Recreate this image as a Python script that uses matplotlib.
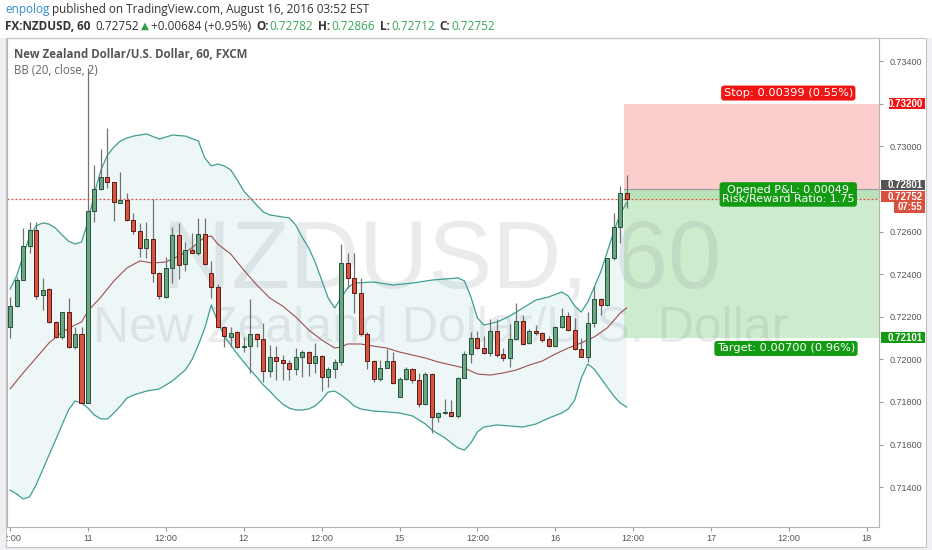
import numpy as np
import matplotlib
matplotlib.use("Agg")
import matplotlib.pyplot as plt
from matplotlib.patches import Rectangle
from matplotlib.transforms import blended_transform_factory

# hourly bars, index 0 = Aug 11 00:00
bar_index = list(range(-12, 84))
opens = [0.72150, 0.72250, 0.72372, 0.72532, 0.72607, 0.72302, 0.72329, 0.72175, 0.72106, 0.72221,
         0.72059, 0.72117, 0.71796, 0.72696, 0.72798, 0.72854, 0.72831, 0.72735, 0.72748, 0.72654,
         0.72604, 0.72521, 0.72563, 0.72404, 0.72294, 0.72427, 0.72582, 0.72446, 0.72513, 0.72498,
         0.72588, 0.72404, 0.72341, 0.72153, 0.72106, 0.72130, 0.72059, 0.72062, 0.72117, 0.72097,
         0.71945, 0.72012, 0.71997, 0.71984, 0.71953, 0.72009, 0.72034, 0.71984, 0.72017, 0.71918,
         0.71953, 0.71989, 0.72454, 0.72380, 0.72310, 0.72119, 0.71992, 0.71906, 0.71961, 0.71993,
         0.71824, 0.71908, 0.71956, 0.71903, 0.71790, 0.71931, 0.71728, 0.71746, 0.71751, 0.71735,
         0.71914, 0.72023, 0.72101, 0.72052, 0.72028, 0.72133, 0.72023, 0.72008, 0.72094, 0.72181,
         0.72075, 0.72134, 0.72122, 0.72094, 0.72064, 0.72153, 0.72203, 0.72138, 0.72047, 0.72012,
         0.72172, 0.72282, 0.72255, 0.72474, 0.72623, 0.72782]
highs = [0.72291, 0.72388, 0.72615, 0.72646, 0.72646, 0.72380, 0.72333, 0.72181, 0.72223, 0.72286,
         0.72153, 0.72153, 0.73368, 0.72912, 0.72986, 0.73085, 0.72834, 0.72881, 0.72779, 0.72688,
         0.72639, 0.72646, 0.72751, 0.72411, 0.72479, 0.72623, 0.72639, 0.72552, 0.72592, 0.72662,
         0.72662, 0.72463, 0.72354, 0.72156, 0.72153, 0.72133, 0.72106, 0.72282, 0.72125, 0.72172,
         0.72067, 0.72062, 0.72020, 0.71997, 0.72052, 0.72044, 0.72040, 0.72075, 0.72020, 0.71965,
         0.72000, 0.72541, 0.72500, 0.72500, 0.72380, 0.72130, 0.71997, 0.71997, 0.72047, 0.72036,
         0.71918, 0.71965, 0.71961, 0.71937, 0.71942, 0.71934, 0.71754, 0.71812, 0.71809, 0.71918,
         0.72040, 0.72130, 0.72134, 0.72109, 0.72188, 0.72188, 0.72052, 0.72164, 0.72266, 0.72208,
         0.72141, 0.72161, 0.72130, 0.72109, 0.72156, 0.72239, 0.72223, 0.72193, 0.72099, 0.72223,
         0.72344, 0.72286, 0.72477, 0.72688, 0.72814, 0.72866]
lows = [0.72099, 0.72247, 0.72370, 0.72498, 0.72282, 0.72231, 0.72172, 0.72099, 0.72094, 0.72052,
        0.72047, 0.71793, 0.71793, 0.72646, 0.72795, 0.72803, 0.72651, 0.72732, 0.72651, 0.72588,
        0.72479, 0.72474, 0.72364, 0.72282, 0.72286, 0.72360, 0.72376, 0.72416, 0.72498, 0.72490,
        0.72443, 0.72286, 0.72150, 0.72059, 0.72059, 0.72053, 0.72036, 0.71937, 0.72059, 0.71895,
        0.71918, 0.71903, 0.71903, 0.71903, 0.71926, 0.71915, 0.71922, 0.71934, 0.71853, 0.71871,
        0.71911, 0.71973, 0.72333, 0.72216, 0.72109, 0.71953, 0.71895, 0.71900, 0.71958, 0.71884,
        0.71822, 0.71903, 0.71890, 0.71777, 0.71785, 0.71653, 0.71707, 0.71743, 0.71730, 0.71723,
        0.71911, 0.71981, 0.72047, 0.72025, 0.72015, 0.72012, 0.71992, 0.71965, 0.72091, 0.72067,
        0.72072, 0.72114, 0.72080, 0.72056, 0.72059, 0.72148, 0.72134, 0.72044, 0.72009, 0.71989,
        0.72150, 0.72208, 0.72250, 0.72466, 0.72547, 0.72712]
closes = [0.72250, 0.72372, 0.72532, 0.72607, 0.72297, 0.72325, 0.72175, 0.72106, 0.72221, 0.72059,
          0.72117, 0.71796, 0.72696, 0.72798, 0.72854, 0.72831, 0.72737, 0.72748, 0.72654, 0.72604,
          0.72521, 0.72563, 0.72404, 0.72297, 0.72427, 0.72582, 0.72443, 0.72513, 0.72498, 0.72588,
          0.72447, 0.72341, 0.72153, 0.72109, 0.72125, 0.72059, 0.72064, 0.72117, 0.72095, 0.71945,
          0.72012, 0.71993, 0.71981, 0.71953, 0.72009, 0.72034, 0.71984, 0.72017, 0.71918, 0.71953,
          0.71989, 0.72454, 0.72380, 0.72310, 0.72119, 0.71992, 0.71906, 0.71961, 0.71993, 0.71887,
          0.71908, 0.71956, 0.71903, 0.71790, 0.71931, 0.71728, 0.71746, 0.71751, 0.71735, 0.71914,
          0.72023, 0.72101, 0.72052, 0.72031, 0.72133, 0.72020, 0.72008, 0.72094, 0.72181, 0.72072,
          0.72134, 0.72122, 0.72091, 0.72064, 0.72153, 0.72203, 0.72138, 0.72047, 0.72012, 0.72172,
          0.72282, 0.72255, 0.72474, 0.72623, 0.72782, 0.72752]

# Bollinger bands (20, close, 2)
upper_idx = [-12, -11, -10, -9, -8, -7, -6, -5, -4, -3, -2, -1, 0, 1, 2, 3, 4, 5, 6, 7, 9, 11, 13, 15,
             17, 18, 19, 20, 21, 22, 23, 24, 25, 26, 27, 28, 30, 31, 32, 33, 34, 35, 36, 37, 38, 39,
             40, 41, 44, 47, 50, 53, 57, 58, 59, 60, 61, 63, 65, 67, 69, 71, 73, 74, 75, 76, 77, 78,
             79, 80, 81, 82, 83]
upper_val = [0.72330, 0.72391, 0.72485, 0.72579, 0.72626, 0.72640, 0.72635, 0.72616, 0.72584, 0.72555,
             0.72541, 0.72551, 0.72645, 0.72781, 0.72889, 0.72959, 0.72997, 0.73025, 0.73039, 0.73048,
             0.73058, 0.73034, 0.73053, 0.73048, 0.73025, 0.72945, 0.72908, 0.72917, 0.72908, 0.72889,
             0.72842, 0.72790, 0.72757, 0.72724, 0.72692, 0.72678, 0.72668, 0.72664, 0.72631, 0.72574,
             0.72523, 0.72457, 0.72372, 0.72288, 0.72241, 0.72288, 0.72335, 0.72358, 0.72363, 0.72349,
             0.72358, 0.72372, 0.72382, 0.72368, 0.72293, 0.72194, 0.72161, 0.72175, 0.72203, 0.72241,
             0.72278, 0.72293, 0.72316, 0.72297, 0.72250, 0.72222, 0.72269, 0.72339, 0.72410, 0.72504,
             0.72598, 0.72683, 0.72734]
mid_idx = [-12, -10, -8, -6, -4, -2, -1, 0, 2, 4, 6, 8, 10, 12, 14, 16, 18, 19, 20, 22, 24, 26, 28,
           30, 32, 34, 36, 38, 39, 40, 42, 44, 46, 48, 50, 52, 54, 56, 58, 60, 62, 64, 66, 68, 70,
           72, 74, 76, 78, 80, 82, 83]
mid_val = [0.71861, 0.71936, 0.72006, 0.72077, 0.72128, 0.72161, 0.72175, 0.72227, 0.72293, 0.72368,
           0.72429, 0.72462, 0.72452, 0.72457, 0.72485, 0.72523, 0.72574, 0.72579, 0.72541, 0.72494,
           0.72419, 0.72349, 0.72288, 0.72250, 0.72199, 0.72138, 0.72091, 0.72053, 0.72058, 0.72072,
           0.72072, 0.72062, 0.72053, 0.72034, 0.72020, 0.72006, 0.71987, 0.71973, 0.71959, 0.71931,
           0.71926, 0.71936, 0.71950, 0.71973, 0.71992, 0.72025, 0.72053, 0.72077, 0.72105, 0.72147,
           0.72217, 0.72241]
lower_idx = [-12, -11, -10, -9, -8, -7, -6, -5, -4, -3, -2, -1, 0, 1, 2, 3, 4, 5, 6, 7, 9, 11, 13, 15,
             16, 17, 18, 19, 20, 21, 22, 23, 24, 25, 26, 27, 28, 29, 30, 31, 32, 33, 34, 35, 36, 37,
             38, 39, 40, 41, 42, 44, 46, 48, 50, 52, 53, 54, 55, 56, 57, 58, 59, 60, 61, 63, 65, 67,
             69, 70, 71, 73, 74, 75, 76, 77, 78, 79, 80, 81, 82, 83]
lower_val = [0.71386, 0.71368, 0.71344, 0.71354, 0.71410, 0.71480, 0.71551, 0.71621, 0.71692, 0.71762,
             0.71804, 0.71795, 0.71771, 0.71738, 0.71720, 0.71720, 0.71748, 0.71781, 0.71818, 0.71832,
             0.71851, 0.71861, 0.71898, 0.71950, 0.71997, 0.72067, 0.72147, 0.72255, 0.72175, 0.72109,
             0.72067, 0.72025, 0.71987, 0.71950, 0.71917, 0.71880, 0.71851, 0.71818, 0.71790, 0.71771,
             0.71762, 0.71762, 0.71767, 0.71781, 0.71809, 0.71846, 0.71851, 0.71832, 0.71809, 0.71781,
             0.71767, 0.71757, 0.71753, 0.71748, 0.71734, 0.71696, 0.71668, 0.71649, 0.71631, 0.71607,
             0.71584, 0.71574, 0.71607, 0.71659, 0.71682, 0.71692, 0.71687, 0.71682, 0.71696, 0.71710,
             0.71724, 0.71748, 0.71767, 0.71809, 0.71911, 0.71978, 0.71954, 0.71912, 0.71870, 0.71828,
             0.71795, 0.71776]

time_ticks = [-12, 0, 12, 24, 36, 48, 60, 72, 84, 96, 108, 120]
time_labels = ["12:00", "11", "12:00", "12", "12:00", "15", "12:00", "16", "12:00", "17", "12:00", "18"]
price_ticks = [0.714, 0.716, 0.718, 0.720, 0.722, 0.724, 0.726, 0.728, 0.730, 0.732, 0.734]

# long position tool
entry_price = 0.72801
stop_price = 0.73200
target_price = 0.72101
last_price = 0.72752
tool_start = 82.6

W, H = 932, 550
XMIN, XMAX = -12.48, 121.88
YMIN, YMAX = 0.712127, 0.735085

UP_FILL, UP_EDGE = "#6ba583", "#225437"
DN_FILL, DN_EDGE = "#d75442", "#5b1a13"
GREEN_TXT = "#3aa757"
DARK = "#333333"

fig = plt.figure(figsize=(W / 100, H / 100), dpi=100)
fig.patch.set_facecolor("white")
ax = fig.add_axes([7 / W, 23 / H, 872 / W, 489 / H])
ax.set_xlim(XMIN, XMAX)
ax.set_ylim(YMIN, YMAX)
px = (YMAX - YMIN) / 489  # one pixel in price units

# bands
bx_u = np.array(upper_idx)
bx_l = np.array(lower_idx)
ax.fill(np.r_[bx_u, bx_l[::-1]], np.r_[upper_val, lower_val[::-1]], color="#eef7f7", lw=0, zorder=0.5)
ax.plot(upper_idx, upper_val, color="#3f9e93", lw=0.9, zorder=1.5)
ax.plot(lower_idx, lower_val, color="#3f9e93", lw=0.9, zorder=1.5)
ax.plot(mid_idx, mid_val, color="#9e4f50", lw=0.8, zorder=1.5)

# watermark
ax.text(0.499, 0.4888, "NZDUSD, 60", transform=ax.transAxes, ha="center", va="baseline",
        fontsize=69, family="Liberation Sans", color="#8a939c", alpha=0.18, zorder=1)
ax.text(0.497, 0.378, "New Zealand Dollar/U.S. Dollar", transform=ax.transAxes, ha="center",
        va="baseline", fontsize=36, family="Liberation Sans", color="#8a939c", alpha=0.18, zorder=1)

# position tool
ax.add_patch(Rectangle((tool_start, entry_price), XMAX - tool_start, stop_price - entry_price,
                       fc="#fccdcd", ec="none", zorder=0.8))
ax.add_patch(Rectangle((tool_start, target_price), XMAX - tool_start, entry_price - target_price,
                       fc="#cdeccd", ec="none", zorder=0.8))
ax.add_patch(Rectangle((tool_start, last_price), XMAX - tool_start, entry_price - last_price,
                       fc="#b9e2b9", ec="none", zorder=0.85))
ax.plot([tool_start, XMAX], [entry_price, entry_price], color="#9a9a9a", lw=0.8, zorder=0.9)

# candles
o = np.array(opens); h = np.array(highs); l = np.array(lows); c = np.array(closes)
up = c >= o
ax.vlines(bar_index, l, h, color="#737373", lw=0.9, zorder=2)
ax.bar(bar_index, np.maximum(np.abs(c - o), px * 0.5), bottom=np.minimum(o, c), width=0.62,
       color=np.where(up, UP_FILL, DN_FILL), edgecolor=np.where(up, UP_EDGE, DN_EDGE),
       linewidth=0.7, zorder=3)

# last price line
ax.axhline(last_price, color="#e0503c", lw=0.9, ls=(0, (1.6, 1.6)), zorder=2.5)

# position labels
box_kw = dict(ha="center", va="center", color="white", family="DejaVu Sans", zorder=6)
ax.text(107.9, 0.73250, "Stop: 0.00399 (0.55%)", fontsize=8.2,
        bbox=dict(boxstyle="round,pad=0.22,rounding_size=0.25", fc="#f01414", ec="none"), **box_kw)
ax.text(107.9, 0.72774, "Opened P&L: 0.00049\nRisk/Reward Ratio: 1.75", fontsize=8.0,
        linespacing=0.95,
        bbox=dict(boxstyle="round,pad=0.22,rounding_size=0.25", fc="#139a13", ec="none"), **box_kw)
ax.text(107.55, 0.72051, "Target: 0.00700 (0.96%)", fontsize=8.2,
        bbox=dict(boxstyle="round,pad=0.22,rounding_size=0.25", fc="#139a13", ec="none"), **box_kw)

# axes styling
for s in ax.spines.values():
    s.set_color("#b5b5b5")
    s.set_linewidth(0.8)
ax.yaxis.tick_right()
# levels hidden behind price badges keep no tick label of their own
hidden = [stop_price, entry_price]
ax.set_yticks(price_ticks, ["" if min(abs(p - q) for q in hidden) < 5e-5 else f"{p:.5f}"
                            for p in price_ticks])
ax.set_xticks(time_ticks, time_labels)
ax.tick_params(axis="y", length=3, pad=5, labelsize=6.5, labelcolor="#555555", color="#999999")
ax.tick_params(axis="x", length=3, pad=2, labelsize=6.6, labelcolor="#555555", color="#999999")
for lab in ax.get_xticklabels() + ax.get_yticklabels():
    lab.set_family("Liberation Sans")

# price scale badges
tr = blended_transform_factory(ax.transAxes, ax.transData)


def badge(y, text, color, x0=881, x1=925):
    a0, a1 = (x0 - 7) / 872, (x1 - 7) / 872
    ax.add_patch(Rectangle((a0, y - 5.4 * px), a1 - a0, 10.8 * px, transform=tr, fc=color,
                           ec="none", clip_on=False, zorder=7))
    ax.text(a1 - 2.5 / 872, y, text, transform=tr, ha="right", va="center", color="white",
            fontsize=7.0, fontweight="bold", family="Liberation Sans", clip_on=False, zorder=8)


badge(stop_price, "0.73200", "#f01414", x0=889)
badge(0.72818, "0.72801", "#555555")
badge(0.72764, "0.72752", "#d9503f")
badge(0.72713, "07:55", "#d9503f", x0=894)
badge(target_price, "0.72101", "#139a13")

# frame strips around the panel
for x0, y0, w, hh in [(0, 0, 6.5, 512), (926, 0, 6, 512), (0, 0, W, 3)]:
    fig.add_artist(Rectangle((x0 / W, y0 / H), w / W, hh / H, transform=fig.transFigure,
                             fc="#eef0f3", ec="none", zorder=10))
fig.add_artist(Rectangle((5.5 / W, 3 / H), 920.5 / W, 509 / H, transform=fig.transFigure,
                         fc="none", ec="#c4c4c4", lw=0.8, zorder=11))

# header text runs
renderer = fig.canvas.get_renderer()


def runs(x, y, pieces):
    for text, kw, gap in pieces:
        t = fig.text(x / W, 1 - y / H, text, ha="left", va="center", **kw)
        x = t.get_window_extent(renderer=renderer).x1 + gap


HF = ["Open Sans", "DejaVu Sans"]
reg = dict(family=HF, fontsize=8.5, color=DARK)
bold = dict(family=HF, fontsize=8.5, color=DARK, fontweight="bold")
grn = dict(family=HF, fontsize=8.5, color=GREEN_TXT)

runs(5, 10, [("enpolog", dict(family=HF, fontsize=8.5, color="#2f8ccc"), 3),
             ("published on TradingView.com, August 16, 2016 03:52 EST", reg, 0)])
runs(5, 26, [("FX:NZDUSD, 60", bold, 5), ("0.72752", reg, 2),
             ("\u25b2", dict(family=["DejaVu Sans"], fontsize=7.5, color="#2ea043"), 2),
             ("+0.00684 (+0.95%)", reg, 5),
             ("O:", bold, 1), ("0.72782", grn, 5), ("H:", bold, 1), ("0.72866", grn, 5),
             ("L:", bold, 1), ("0.72712", grn, 5), ("C:", bold, 1), ("0.72752", grn, 0)])
fig.text(14 / W, 1 - 54 / H, "New Zealand Dollar/U.S. Dollar, 60, FXCM", ha="left", va="center",
         family=HF, fontsize=8.3, fontweight="bold", color="#555555")
fig.text(14 / W, 1 - 70.5 / H, "BB (20, close, 2)", ha="left", va="center",
         family=HF, fontsize=8.3, color="#666666")

fig.savefig("out.png", dpi=100, facecolor=fig.get_facecolor())
